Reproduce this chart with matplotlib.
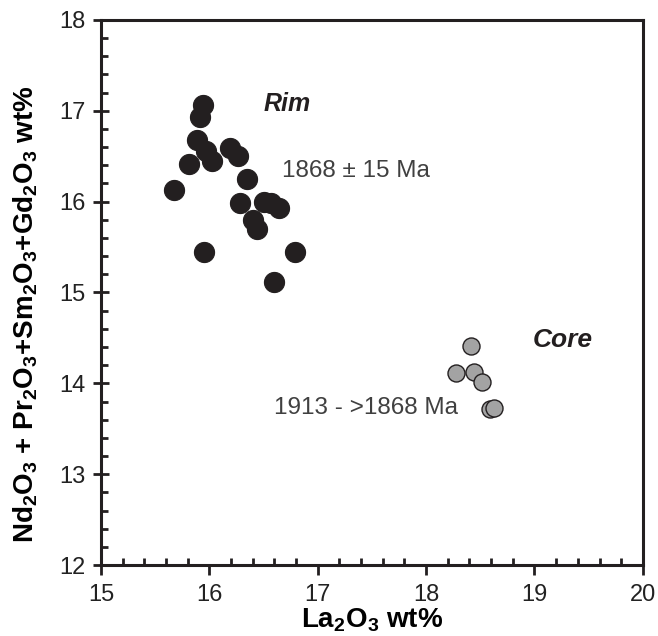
import matplotlib
matplotlib.use("Agg")
import matplotlib.pyplot as plt
from matplotlib.ticker import MultipleLocator

plt.rcParams['font.family'] = ['Liberation Sans', 'DejaVu Sans']
plt.rcParams['mathtext.default'] = 'regular'

# Rim analyses (La2O3 wt%, Nd2O3+Pr2O3+Sm2O3+Gd2O3 wt%)
rim_la = [15.94, 15.91, 15.89, 15.97, 16.02, 15.81, 16.19, 16.26, 16.35, 15.67,
          16.28, 16.50, 16.57, 16.64, 16.40, 16.44, 15.95, 16.79, 16.60]
rim_ree = [17.06, 16.93, 16.68, 16.56, 16.45, 16.42, 16.59, 16.50, 16.25, 16.13,
           15.98, 16.00, 15.98, 15.93, 15.80, 15.70, 15.45, 15.45, 15.12]

# Core analyses
core_la = [18.41, 18.28, 18.44, 18.52, 18.59, 18.625]
core_ree = [14.41, 14.11, 14.13, 14.02, 13.72, 13.73]

dark = '#231f20'

fig = plt.figure(figsize=(6.58, 6.36), dpi=100)
ax = fig.add_axes([0.1535, 0.1116, 0.8235, 0.857])

ax.scatter(rim_la, rim_ree, s=210, c=dark, edgecolors=dark, linewidths=0.8, zorder=3)
ax.scatter(core_la, core_ree, s=150, c='#a3a3a3', edgecolors=dark, linewidths=1.0, zorder=3)

ax.text(16.72, 17.07, 'Rim', fontsize=18, fontweight='bold', style='italic',
        color=dark, ha='center', va='center')
ax.text(16.67, 16.34, '1868 \u00b1 15 Ma', fontsize=17.5, color='#404040', va='center')
ax.text(18.985, 14.48, 'Core', fontsize=19, fontweight='bold', style='italic',
        color=dark, ha='left', va='center')
ax.text(18.29, 13.73, '1913 - >1868 Ma', fontsize=17.5, color='#404040',
        ha='right', va='center')

ax.set_xlim(15, 20)
ax.set_ylim(12, 18)
ax.xaxis.set_major_locator(MultipleLocator(1))
ax.xaxis.set_minor_locator(MultipleLocator(0.2))
ax.yaxis.set_major_locator(MultipleLocator(1))
ax.yaxis.set_minor_locator(MultipleLocator(0.2))

for sp in ax.spines.values():
    sp.set_linewidth(2.2)
    sp.set_color(dark)

ax.tick_params(axis='x', which='major', direction='out', length=7, width=2, color=dark,
               labelsize=17, pad=7)
ax.tick_params(axis='x', which='minor', direction='in', length=5, width=2, color=dark)
ax.tick_params(axis='y', which='major', direction='inout', length=12, width=2, color=dark,
               labelsize=17, pad=5)
ax.tick_params(axis='y', which='minor', direction='in', length=5, width=2, color=dark)
ax.tick_params(labelcolor='#222222')

ax.set_xlabel('La$_2$O$_3$ wt%', fontsize=20, fontweight='bold', labelpad=0)
ax.set_ylabel('Nd$_2$O$_3$ + Pr$_2$O$_3$+Sm$_2$O$_3$+Gd$_2$O$_3$ wt%', fontsize=20,
              fontweight='bold')
ax.yaxis.set_label_coords(-0.112, 0.46)

fig.savefig('out.png', dpi=100)
